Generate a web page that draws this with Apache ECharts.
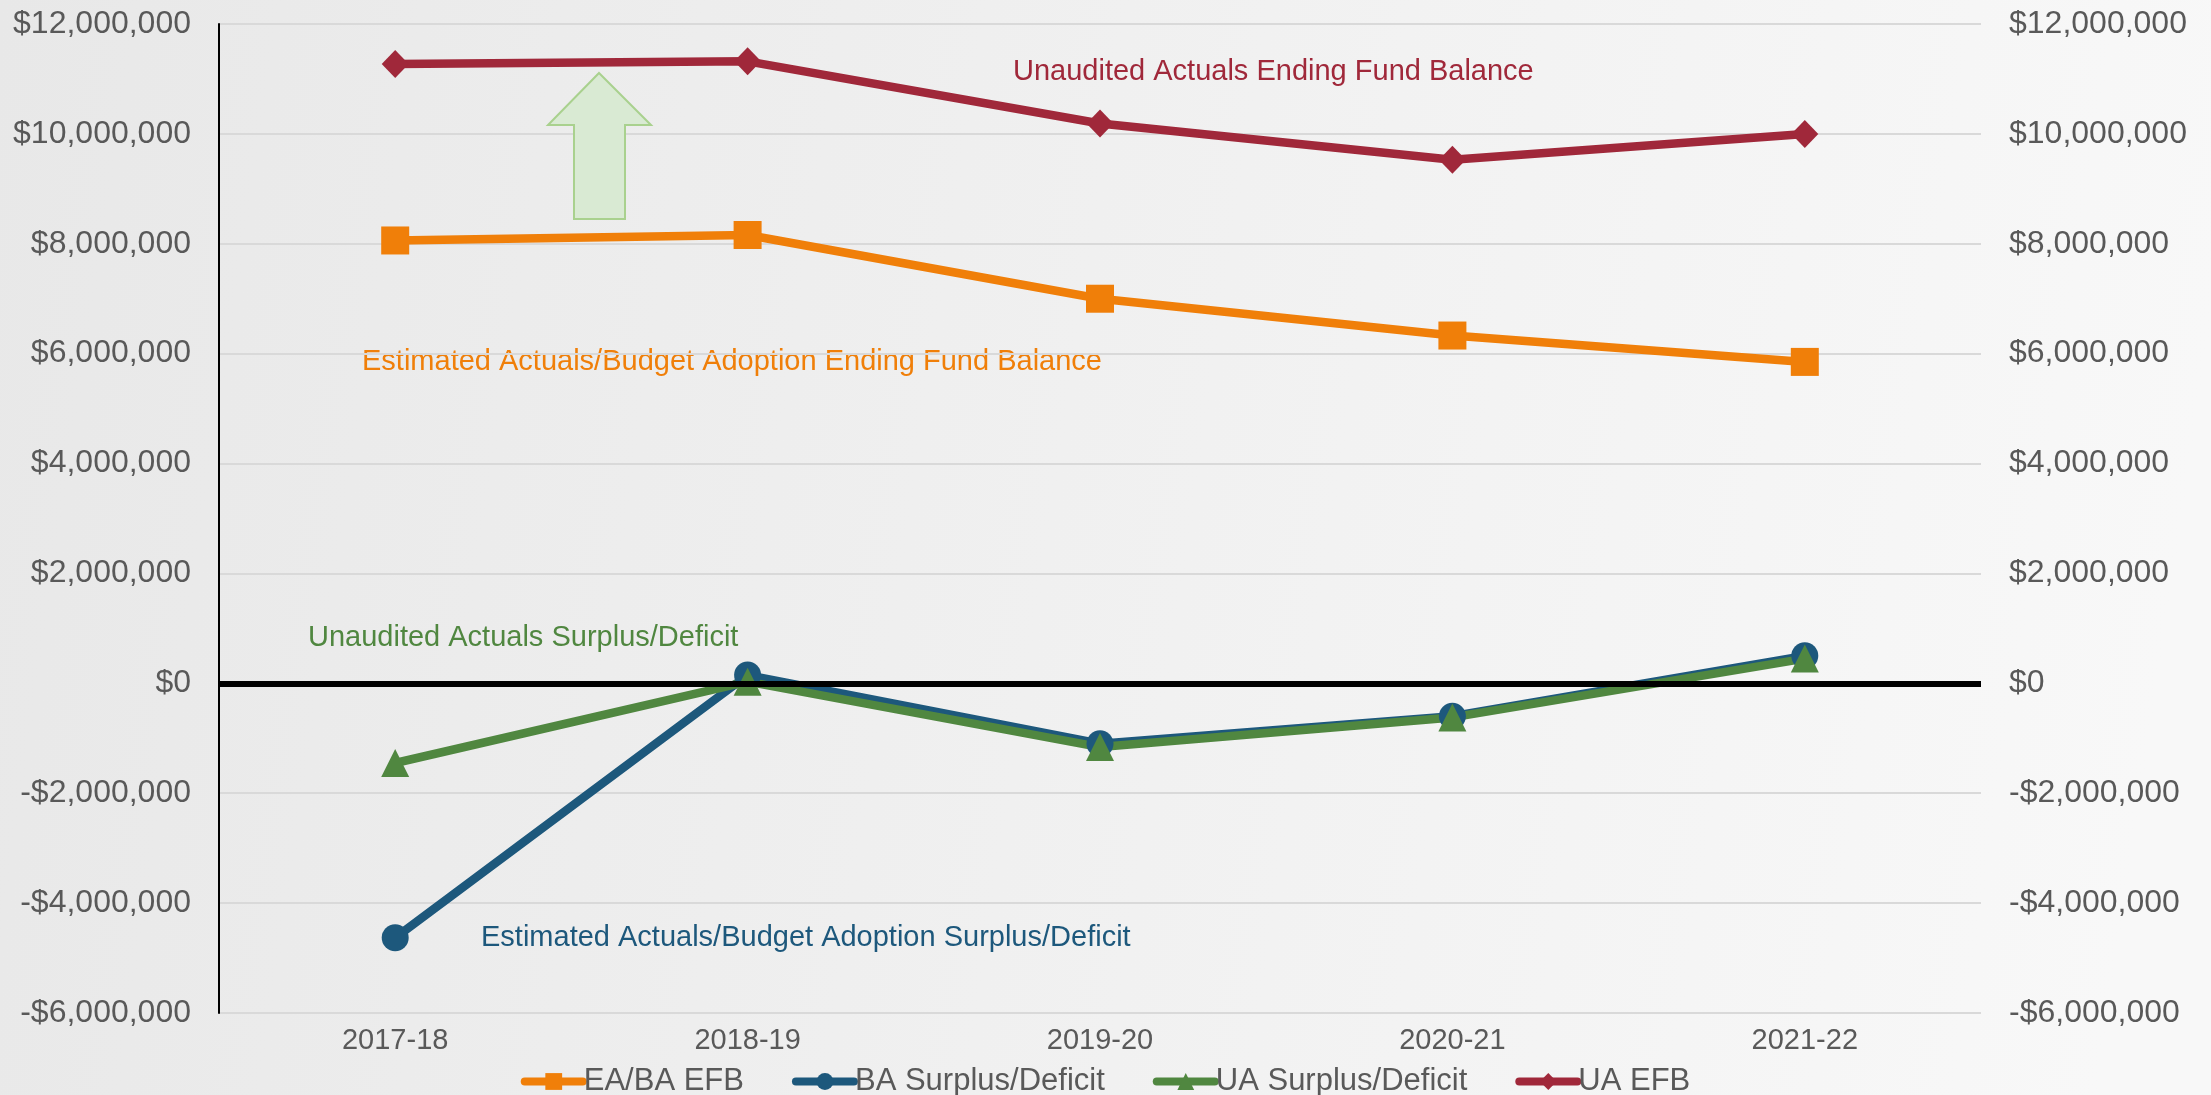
<!DOCTYPE html>
<html>
<head>
<meta charset="utf-8">
<style>
  html, body { margin: 0; padding: 0; }
  #chart { width: 2211px; height: 1095px; }
</style>
<script src="https://cdn.jsdelivr.net/npm/echarts@6/dist/echarts.min.js"></script>
</head>
<body>
<div id="chart"></div>
<script>
const years = ['2017-18', '2018-19', '2019-20', '2020-21', '2021-22']
const eaBaEfb = [8060000, 8160000, 7000000, 6330000, 5850000]
const baSurplus = [-4630000, 150000, -1100000, -600000, 500000]
const uaSurplus = [-1450000, 30000, -1160000, -620000, 450000]
const uaEfb = [11270000, 11320000, 10190000, 9530000, 10000000]
const axisMin = -6000000
const axisMax = 12000000
const axisStep = 2000000

const FONT = '"Liberation Sans", Arial, sans-serif'
const ORANGE = '#F07F09'
const BLUE = '#1D587C'
const GREEN = '#508740'
const RED = '#A0283A'

function money(v) {
  const s = Math.abs(v).toLocaleString('en-US')
  return (v < 0 ? '-$' : '$') + s
}

const chart = echarts.init(document.getElementById('chart'))

function yAxisCfg(pos, showLine, showSplit) {
  return {
    type: 'value',
    position: pos,
    min: axisMin,
    max: axisMax,
    interval: axisStep,
    axisLine: { show: showLine, lineStyle: { color: '#000', width: 2 } },
    axisTick: { show: false },
    splitLine: { show: showSplit, lineStyle: { color: '#D9D9D9', width: 2 } },
    axisLabel: {
      color: '#595959',
      fontFamily: FONT,
      fontSize: 32,
      margin: 28,
      formatter: money
    }
  }
}

function lineSeries(name, data, color, symbol, size) {
  return {
    name: name,
    type: 'line',
    data: data,
    symbol: symbol,
    symbolSize: size,
    showAllSymbol: true,
    lineStyle: { color: color, width: 8.5 },
    itemStyle: { color: color },
    z: 3
  }
}

const textStyle = (color) => ({ fontFamily: FONT, fontSize: 29, fill: color })

chart.setOption({
  backgroundColor: new echarts.graphic.LinearGradient(0, 0, 1, 0.3, [
    { offset: 0, color: '#E8E8E8' },
    { offset: 1, color: '#F8F8F8' }
  ]),
  animation: false,
  grid: { left: 219, right: 230, top: 24, bottom: 82 },
  legend: {
    top: 1061,
    left: 'center',
    itemWidth: 58,
    itemHeight: 21,
    itemGap: 48,
    lineStyle: { width: 8, cap: 'round' },
    textStyle: { color: '#595959', fontFamily: FONT, fontSize: 31, padding: [0, 0, 0, -4] },
    data: ['EA/BA EFB', 'BA Surplus/Deficit', 'UA Surplus/Deficit', 'UA EFB']
  },
  xAxis: {
    type: 'category',
    data: years,
    boundaryGap: true,
    axisLine: { show: false },
    axisTick: { show: false },
    axisLabel: { color: '#595959', fontFamily: FONT, fontSize: 29, margin: 13 }
  },
  yAxis: [yAxisCfg('left', true, true), yAxisCfg('right', false, false)],
  series: [
    lineSeries('EA/BA EFB', eaBaEfb, ORANGE, 'rect', 28),
    lineSeries('BA Surplus/Deficit', baSurplus, BLUE, 'circle', 27),
    Object.assign(lineSeries('UA Surplus/Deficit', uaSurplus, GREEN, 'triangle', 28), {
      markLine: {
        silent: true,
        symbol: 'none',
        label: { show: false },
        lineStyle: { color: '#000', width: 6, type: 'solid' },
        data: [{ yAxis: 0 }]
      }
    }),
    lineSeries('UA EFB', uaEfb, RED, 'diamond', [27, 28])
  ],
  graphic: [
    {
      type: 'polygon',
      shape: { points: [[599, 73], [651, 125], [625, 125], [625, 219], [574, 219], [574, 125], [548, 125]] },
      style: { fill: '#D9EAD3', stroke: '#A9D18E', lineWidth: 2 },
      z: 1
    },
    { type: 'text', left: 1013, top: 57, style: Object.assign({ text: 'Unaudited Actuals Ending Fund Balance' }, textStyle(RED)) },
    { type: 'text', left: 362, top: 347, style: Object.assign({ text: 'Estimated Actuals/Budget Adoption Ending Fund Balance' }, textStyle(ORANGE)) },
    { type: 'text', left: 308, top: 623, style: Object.assign({ text: 'Unaudited Actuals Surplus/Deficit' }, textStyle(GREEN)) },
    { type: 'text', left: 481, top: 923, style: Object.assign({ text: 'Estimated Actuals/Budget Adoption Surplus/Deficit' }, textStyle(BLUE)) }
  ]
})
</script>
</body>
</html>
